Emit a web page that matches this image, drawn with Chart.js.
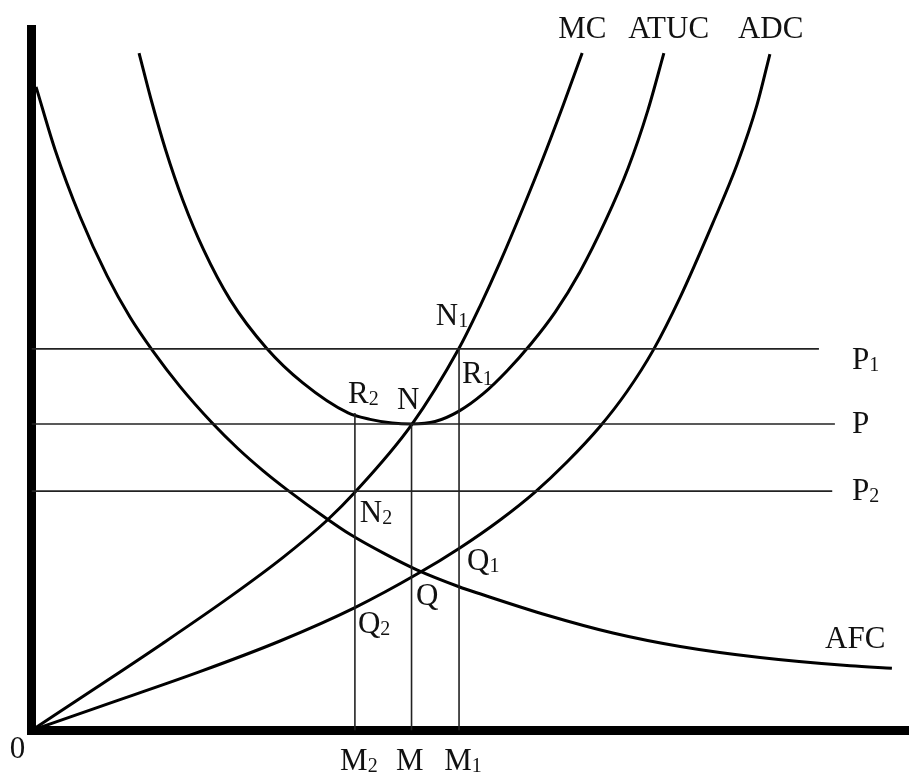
<!DOCTYPE html>
<html>
<head>
<meta charset="utf-8">
<script src="https://cdn.jsdelivr.net/npm/chart.js"></script>
<style>
  html, body { margin: 0; padding: 0; background: #fff; }
  #wrap { width: 909px; height: 777px; }
</style>
</head>
<body>
<div id="wrap"><canvas id="costChart" width="909" height="777"></canvas></div>
<script>
// Output (x) and cost (y) readings for each curve, M = 10 and P = 10
const mcQty = [0, 1.72, 3.46, 5.22, 6.62, 7.78, 8.51, 10.0, 11.25, 11.80, 12.33, 12.93, 13.46, 13.99, 14.49];
const mcCost = [0, 1.41, 2.85, 4.36, 5.65, 6.86, 7.77, 9.97, 12.47, 13.84, 15.28, 17.04, 18.67, 20.40, 22.10];

const atucQty = [2.83, 3.15, 3.53, 3.98, 4.53, 5.23, 6.18, 7.14, 8.33, 8.91, 9.49, 10.0, 10.62, 11.25, 11.88, 12.51, 13.14, 13.78, 14.43, 15.09, 15.70, 16.22, 16.64];
const atucCost = [22.10, 20.57, 18.94, 17.31, 15.68, 14.05, 12.48, 11.34, 10.36, 10.15, 10.03, 10.0, 10.08, 10.42, 10.98, 11.73, 12.61, 13.65, 14.96, 16.59, 18.35, 20.24, 22.10];

const adcQty = [0, 1.80, 4.43, 6.54, 8.51, 10.17, 11.25, 12.33, 13.25, 14.09, 14.96, 15.67, 16.36, 17.07, 17.93, 18.57, 19.09, 19.43];
const adcCost = [0, 0.78, 1.92, 2.92, 4.01, 5.12, 5.94, 6.87, 7.78, 8.76, 9.92, 11.06, 12.41, 14.14, 16.56, 18.48, 20.41, 22.07];

const afcQty = [0.12, 0.62, 1.28, 1.99, 2.59, 3.20, 3.91, 4.75, 5.43, 6.09, 6.72, 7.78, 8.38, 9.30, 10.14, 11.25, 11.80, 13.57, 15.30, 17.07, 19.17, 21.54, 22.64];
const afcCost = [21.00, 18.95, 16.76, 14.83, 13.49, 12.37, 11.22, 10.04, 9.20, 8.48, 7.86, 6.90, 6.40, 5.76, 5.24, 4.69, 4.46, 3.76, 3.18, 2.74, 2.38, 2.11, 2.03];

// price levels P1, P, P2 and output levels M2, M, M1
const priceLevels = [12.45, 10.0, 7.81];
const priceLineEnd = [20.72, 21.14, 21.07];
const qtyLevels = [8.51, 10.0, 11.25];
const qtyLineTop = [10.36, 10.0, 12.45];

// text, subscript, x, y (left edge / baseline)
const pointLabels = [
  ['MC', '', 13.86, 22.59],
  ['ATUC', '', 15.70, 22.59],
  ['ADC', '', 18.59, 22.59],
  ['N', '1', 10.64, 13.23],
  ['R', '1', 11.33, 11.34],
  ['R', '2', 8.33, 10.68],
  ['N', '', 9.62, 10.49],
  ['N', '2', 8.64, 6.80],
  ['Q', '1', 11.46, 5.23],
  ['Q', '', 10.12, 4.09],
  ['Q', '2', 8.59, 3.18],
  ['P', '1', 21.59, 11.78],
  ['P', '', 21.59, 9.71],
  ['P', '2', 21.59, 7.52],
  ['AFC', '', 20.88, 2.69],
  ['0', '', -0.57, -0.90],
  ['M', '2', 8.12, -1.29],
  ['M', '', 9.59, -1.29],
  ['M', '1', 10.86, -1.29]
];

function toPoints(xs, ys) {
  return xs.map((x, i) => ({ x: x, y: ys[i] }));
}

function curve(xs, ys) {
  return {
    data: toPoints(xs, ys),
    borderColor: '#000',
    borderWidth: 3,
    pointRadius: 0,
    cubicInterpolationMode: 'monotone',
    showLine: true
  };
}

function guide(points) {
  return {
    data: points,
    borderColor: '#222',
    borderWidth: 1.6,
    pointRadius: 0,
    showLine: true
  };
}

const datasets = [];
priceLevels.forEach((p, i) => {
  datasets.push(guide([{ x: 0, y: p }, { x: priceLineEnd[i], y: p }]));
});
qtyLevels.forEach((q, i) => {
  datasets.push(guide([{ x: q, y: 0 }, { x: q, y: qtyLineTop[i] }]));
});
datasets.push(curve(mcQty, mcCost));
datasets.push(curve(atucQty, atucCost));
datasets.push(curve(adcQty, adcCost));
datasets.push(curve(afcQty, afcCost));

const labelPlugin = {
  id: 'pointLabels',
  afterDraw(chart) {
    const ctx = chart.ctx;
    const xs = chart.scales.x;
    const ys = chart.scales.y;
    ctx.save();
    ctx.fillStyle = '#111';
    ctx.textBaseline = 'alphabetic';
    pointLabels.forEach(([txt, sub, x, y]) => {
      const px = xs.getPixelForValue(x);
      const py = ys.getPixelForValue(y);
      ctx.font = '31px "Liberation Serif", "Times New Roman", serif';
      ctx.fillText(txt, px, py);
      if (sub) {
        const w = ctx.measureText(txt).width;
        ctx.font = '20px "Liberation Serif", "Times New Roman", serif';
        ctx.fillText(sub, px + w, py + 2);
      }
    });
    ctx.restore();
  }
};

new Chart(document.getElementById('costChart'), {
  type: 'scatter',
  data: { datasets: datasets },
  plugins: [labelPlugin],
  options: {
    responsive: false,
    animation: false,
    layout: { padding: { left: 31.5, top: 29.5, right: 0, bottom: 46.5 } },
    plugins: { legend: { display: false }, tooltip: { enabled: false } },
    scales: {
      x: {
        type: 'linear',
        min: 0,
        max: 23.09,
        grid: { display: false, drawTicks: false },
        ticks: { display: false },
        border: { display: true, width: 9, color: '#000' }
      },
      y: {
        type: 'linear',
        min: 0,
        max: 22.87,
        grid: { display: false, drawTicks: false },
        ticks: { display: false },
        border: { display: true, width: 9, color: '#000' }
      }
    }
  }
});
</script>
</body>
</html>
